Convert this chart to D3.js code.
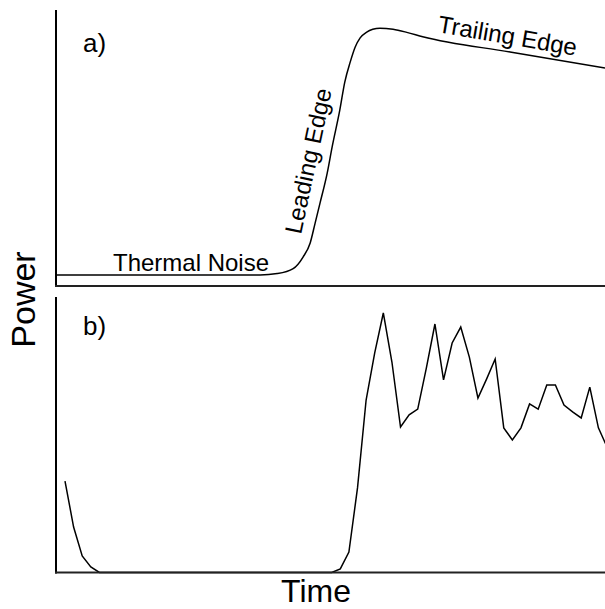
<!DOCTYPE html>
<html>
<head>
<meta charset="utf-8">
<script src="https://cdn.jsdelivr.net/npm/d3@7"></script>
<style>
  body { margin: 0; background: #fff; }
  text { font-family: "Liberation Sans", Arial, Helvetica, sans-serif; fill: #000; }
</style>
</head>
<body>
<div id="chart"></div>
<script>
// panel a) idealised waveform: time (0-100) and power (0-100)
const pulseTime  = [0, 37.2, 40.3, 43.2, 45.0, 46.3, 47.2, 48.1, 49.4, 50.3, 51.7, 52.6, 53.6, 54.5, 55.4, 56.6, 57.7, 59.0, 61.4, 63.9, 66.8, 82.7, 100];
const pulsePower = [4.0, 4.0, 4.5, 6.3, 10.5, 15.6, 22.8, 30.1, 40.9, 50.4, 63.8, 73.9, 81.2, 86.6, 89.9, 92.0, 93.0, 93.4, 93.0, 91.9, 90.3, 84.8, 79.0];

// panel b) sampled waveform, one value per bin
const samplePower = [
  33.2, 16.5, 6.0, 2.0, 0, 0, 0, 0, 0, 0,
  0, 0, 0, 0, 0, 0, 0, 0, 0, 0,
  0, 0, 0, 0, 0, 0, 0, 0, 0, 0,
  0, 0, 1.3, 7.4, 30.7, 62.6, 79.7, 94.2, 76.4, 52.8,
  57.2, 59.3, 74.2, 90.2, 69.9, 83.3, 89.1, 78.2, 63.3, 70.2,
  77.5, 52.5, 48.1, 52.5, 61.2, 59.3, 68.1, 68.1, 60.8, 58.3,
  56.1, 67.3, 52.5, 45.6
];

const labels = ["a)", "b)"];
const xTitle = "Time", yTitle = "Power";

const W = 605, H = 609;
const left = 56, right = 605;
const panelA = { top: 10, bottom: 286 };
const panelB = { top: 297, bottom: 572.5 };

const svg = d3.select("#chart").append("svg")
  .attr("width", W).attr("height", H);

svg.append("defs").append("clipPath").attr("id", "clipB")
  .append("rect").attr("x", left).attr("y", panelB.top - 5)
  .attr("width", right - left).attr("height", panelB.bottom - panelB.top + 10);

// ---- panel a
const xa = d3.scaleLinear().domain([0, 100]).range([left, right]);
const ya = d3.scaleLinear().domain([0, 100]).range([panelA.bottom, panelA.top]);

const pulse = pulseTime.map((t, i) => ({ t: t, p: pulsePower[i] }));
const lineA = d3.line().x(d => xa(d.t)).y(d => ya(d.p)).curve(d3.curveMonotoneX);

svg.append("path").datum(pulse)
  .attr("d", lineA)
  .attr("fill", "none").attr("stroke", "#000").attr("stroke-width", 1.5);

// ---- panel b
const xb = d3.scaleLinear().domain([0, 63]).range([65, 607]);
const yb = d3.scaleLinear().domain([0, 100]).range([panelB.bottom, panelB.top]);

const lineB = d3.line().x((d, i) => xb(i)).y(d => yb(d));
svg.append("path").datum(samplePower)
  .attr("clip-path", "url(#clipB)")
  .attr("d", lineB)
  .attr("fill", "none").attr("stroke", "#000").attr("stroke-width", 1.5);

// ---- axes (plain frame lines, no ticks)
[panelA, panelB].forEach(p => {
  svg.append("line").attr("x1", left).attr("x2", left)
    .attr("y1", p.top).attr("y2", p.bottom + 1)
    .attr("stroke", "#000").attr("stroke-width", 2);
  svg.append("line").attr("x1", left - 1).attr("x2", right)
    .attr("y1", p.bottom).attr("y2", p.bottom)
    .attr("stroke", "#222").attr("stroke-width", 2);
});

// ---- panel labels
svg.append("text").attr("x", 83).attr("y", 52).attr("font-size", 26).text(labels[0]);
svg.append("text").attr("x", 83).attr("y", 335).attr("font-size", 26).text(labels[1]);

// ---- annotations
svg.append("text").attr("x", 113).attr("y", 271).attr("font-size", 24).text("Thermal Noise");
svg.append("text").attr("transform", "translate(301,235) rotate(-78)")
  .attr("font-size", 24).text("Leading Edge");
svg.append("text").attr("transform", "translate(437,32) rotate(9.7)")
  .attr("font-size", 24).text("Trailing Edge");

// ---- axis titles
svg.append("text").attr("x", 316).attr("y", 602).attr("text-anchor", "middle")
  .attr("font-size", 32).text(xTitle);
svg.append("text").attr("transform", "translate(35,299.5) rotate(-90)")
  .attr("text-anchor", "middle").attr("font-size", 34).text(yTitle);
</script>
</body>
</html>
